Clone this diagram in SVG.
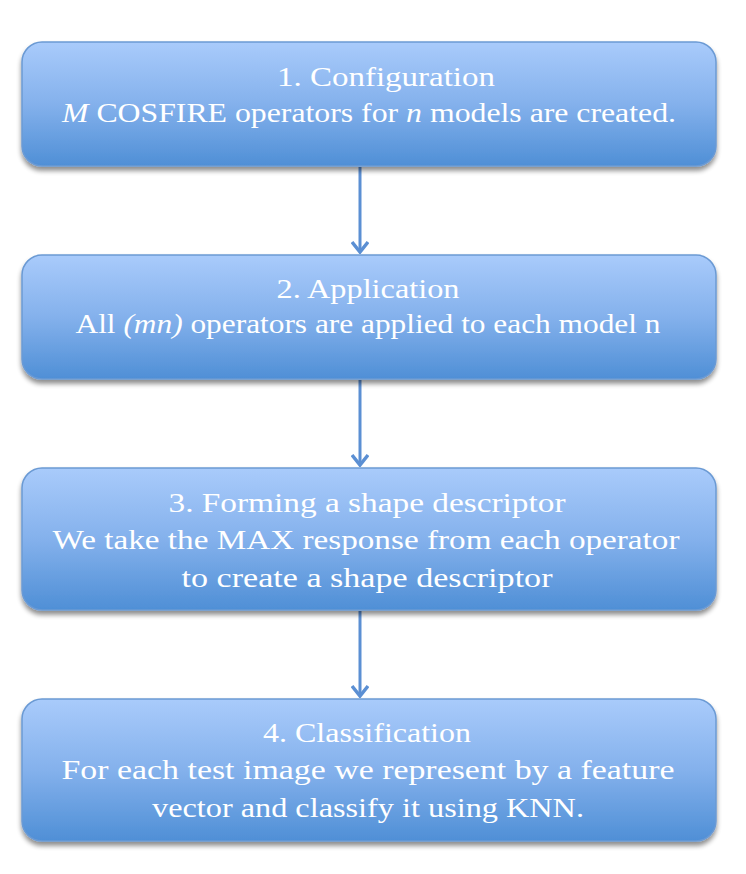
<svg xmlns="http://www.w3.org/2000/svg" width="746" height="874" viewBox="0 0 746 874">
<style>
.box{fill:url(#g);stroke:#6b9ad4;stroke-width:1.5;filter:url(#sh)}
.t{font-family:"Liberation Serif","DejaVu Serif",serif;font-size:28px;fill:#fff;text-anchor:middle}
.i{font-style:italic}
.c{stroke:#5b8fd3;stroke-width:3;fill:none;marker-end:url(#ah)}
</style>
<defs>
<linearGradient id="g" x1="0" y1="0" x2="0" y2="1">
<stop offset="0" stop-color="#a9cbfb"/>
<stop offset="0.5" stop-color="#84b1ec"/>
<stop offset="1" stop-color="#4f8fd6"/>
</linearGradient>
<filter id="sh" x="-5%" y="-10%" width="110%" height="130%">
<feGaussianBlur in="SourceAlpha" stdDeviation="2.5"/>
<feOffset dx="0" dy="4" result="b"/>
<feComponentTransfer><feFuncA type="linear" slope="0.45"/></feComponentTransfer>
<feMerge><feMergeNode/><feMergeNode in="SourceGraphic"/></feMerge>
</filter>
<marker id="ah" viewBox="0 0 14 18" refX="12" refY="9" markerWidth="14" markerHeight="18" markerUnits="userSpaceOnUse" orient="auto">
<path d="M2,1 L12,9 L2,17" fill="none" stroke="#5b8fd3" stroke-width="3.5" stroke-linejoin="miter"/>
</marker>
</defs>
<g id="connectors">
<line class="c" x1="360" y1="167" x2="360" y2="252"/>
<line class="c" x1="360" y1="380" x2="360" y2="465"/>
<line class="c" x1="360" y1="611" x2="360" y2="696"/>
</g>
<g id="n1">
<rect class="box" x="22" y="42" width="694" height="124" rx="20"/>
<text class="t" x="386" y="86" textLength="218" lengthAdjust="spacingAndGlyphs">1. Configuration</text>
<text class="t" x="369" y="122" textLength="614" lengthAdjust="spacingAndGlyphs"><tspan class="i">M</tspan> COSFIRE operators for <tspan class="i">n</tspan> models are created.</text>
</g>
<g id="n2">
<rect class="box" x="22" y="255" width="694" height="124" rx="20"/>
<text class="t" x="368" y="298" textLength="183" lengthAdjust="spacingAndGlyphs">2. Application</text>
<text class="t" x="368" y="333" textLength="585" lengthAdjust="spacingAndGlyphs">All <tspan class="i">(mn)</tspan> operators are applied to each model n</text>
</g>
<g id="n3">
<rect class="box" x="22" y="468" width="694" height="142" rx="20"/>
<text class="t" x="367" y="512" textLength="397" lengthAdjust="spacingAndGlyphs">3. Forming a shape descriptor</text>
<text class="t" x="366" y="549" textLength="627" lengthAdjust="spacingAndGlyphs">We take the MAX response from each operator</text>
<text class="t" x="367" y="587" textLength="371" lengthAdjust="spacingAndGlyphs">to create a shape descriptor</text>
</g>
<g id="n4">
<rect class="box" x="22" y="699" width="694" height="142" rx="20"/>
<text class="t" x="367" y="742" textLength="208" lengthAdjust="spacingAndGlyphs">4. Classification</text>
<text class="t" x="368" y="779" textLength="613" lengthAdjust="spacingAndGlyphs">For each test image we represent by a feature</text>
<text class="t" x="368" y="817" textLength="432" lengthAdjust="spacingAndGlyphs">vector and classify it using KNN.</text>
</g>
</svg>
